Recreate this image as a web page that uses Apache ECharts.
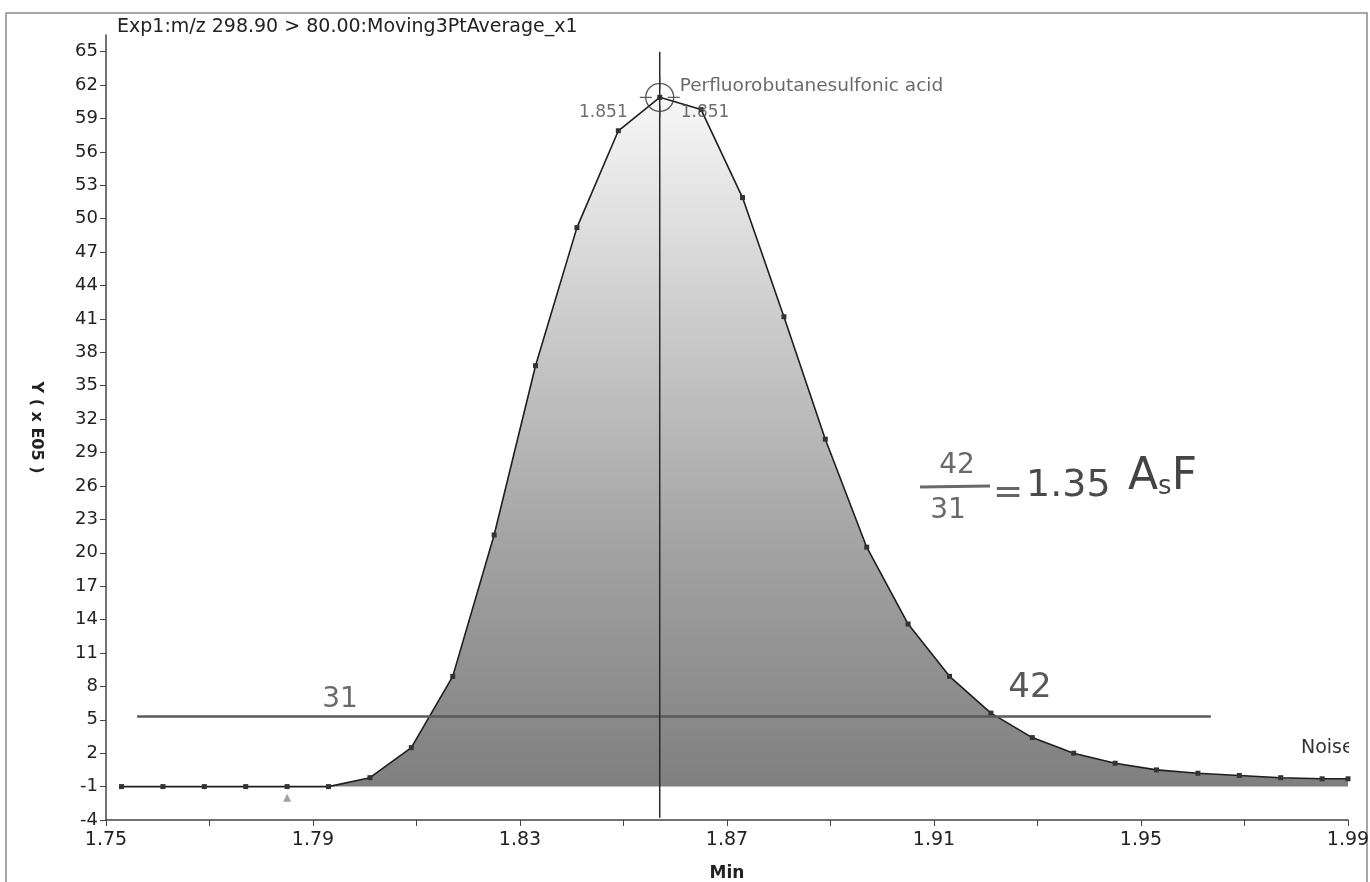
<!DOCTYPE html>
<html><head><meta charset="utf-8">
<script src="https://cdn.jsdelivr.net/npm/echarts@6/dist/echarts.min.js"></script>
<style>html,body{margin:0;padding:0;background:#fff;}#c{width:1370px;height:882px;}</style>
</head><body><div id="c"></div>
<script>
// ---- data (retention time in min, intensity in x E05) ----
const times = [1.753,1.761,1.769,1.777,1.785,1.793,1.801,1.809,1.817,1.825,1.833,1.841,1.849,1.857,1.865,1.873,1.881,1.889,1.897,1.905,1.913,1.921,1.929,1.937,1.945,1.953,1.961,1.969,1.977,1.985,1.99];
const intensity = [-1,-1,-1,-1,-1,-1,-0.2,2.5,8.9,21.6,36.8,49.2,57.9,60.9,59.8,51.9,41.2,30.2,20.5,13.6,8.9,5.6,3.4,2.0,1.1,0.5,0.2,0.0,-0.2,-0.3,-0.3];
const xTickLabels = [1.75,1.79,1.83,1.87,1.91,1.95,1.99];
const xTicks = [1.75,1.77,1.79,1.81,1.83,1.85,1.87,1.89,1.91,1.93,1.95,1.97,1.99];
const yTickLabels = [-4,-1,2,5,8,11,14,17,20,23,26,29,32,35,38,41,44,47,50,53,56,59,62,65];
const peakTime = 1.857, peakValue = 60.9;
const rtLabel = '1.851';
const compoundName = 'Perfluorobutanesulfonic acid';
const levelValue = 5.3, levelStart = 1.756, levelEnd = 1.9635;
const triangleMark = [1.785, -2.0];
const titleText = 'Exp1:m/z 298.90 > 80.00:Moving3PtAverage_x1';

const FONT = 'DejaVu Sans';
const chart = echarts.init(document.getElementById('c'), null, {renderer:'canvas'});
const signal = times.map((t,i)=>[t,intensity[i]]);

const option = {
  backgroundColor:'#fff',
  animation:false,
  title:{text:titleText,left:112,top:13,textStyle:{fontFamily:FONT,fontSize:19,fontWeight:'normal',color:'#222'}},
  grid:{left:106,right:22,top:35,bottom:62,containLabel:false,outerBoundsMode:'none'},
  xAxis:{type:'value',min:1.75,max:1.99,
    name:'Min',nameLocation:'middle',nameGap:45,
    nameTextStyle:{fontFamily:FONT,fontSize:17,fontWeight:'bold',color:'#222'},
    axisLine:{onZero:false,lineStyle:{color:'#444',width:1.5}},
    axisTick:{show:true,length:6,customValues:xTicks,lineStyle:{color:'#444'}},
    axisLabel:{customValues:xTickLabels,formatter:v=>v.toFixed(2),fontFamily:FONT,fontSize:19,color:'#222',margin:11},
    splitLine:{show:false}},
  yAxis:{type:'value',min:-4,max:66.5,
    name:'Y ( x E05 )',nameLocation:'middle',nameGap:62,nameRotate:-90,
    nameTextStyle:{fontFamily:FONT,fontSize:16,fontWeight:'bold',color:'#222'},
    axisLine:{show:true,onZero:false,lineStyle:{color:'#444',width:1.5}},
    axisTick:{show:true,length:6,customValues:yTickLabels,lineStyle:{color:'#444'}},
    axisLabel:{customValues:yTickLabels,fontFamily:FONT,fontSize:18,color:'#222',margin:8},
    splitLine:{show:false}},
  series:[
    {name:'signal',type:'line',data:signal,smooth:false,
     symbol:'rect',symbolSize:5,showAllSymbol:true,
     itemStyle:{color:'#333'},lineStyle:{color:'#1e1e1e',width:1.6},
     areaStyle:{origin:-1,opacity:1,color:new echarts.graphic.LinearGradient(0,0,0,1,[
       {offset:0,color:'#f7f7f7'},{offset:0.3,color:'#cfcfcf'},{offset:0.65,color:'#a3a3a3'},{offset:1,color:'#7f7f7f'}])},
     z:2},
    {name:'level',type:'line',data:[[levelStart,levelValue],[levelEnd,levelValue]],symbol:'none',
     lineStyle:{color:'#5a5a5a',width:2.5},z:3},
    {name:'rt',type:'line',data:[[peakTime,-3.8],[peakTime,65]],symbol:'none',
     lineStyle:{color:'#2a2a2a',width:1.5},z:3},
    {name:'peakMark',type:'scatter',data:[[peakTime,peakValue]],
     symbol:'path://M0,-20L0,-8M0,8L0,20M-20,0L-8,0M8,0L20,0M14,0A14,14 0 1 1 -14,0A14,14 0 1 1 14,0Z',
     symbolSize:40,symbolKeepAspect:true,
     itemStyle:{color:'rgba(0,0,0,0)',borderColor:'#333',borderWidth:1.4},z:4,
     label:{show:false}},
    {name:'peakLabels',type:'scatter',symbolSize:0,z:5,silent:true,
     data:[
       {value:[peakTime,peakValue],label:{show:true,formatter:compoundName,position:[20,-11],align:'left',verticalAlign:'middle',fontFamily:FONT,fontSize:18.5,color:'#454545'}},
       {value:[peakTime,peakValue],label:{show:true,formatter:rtLabel,position:[-32,15],align:'right',verticalAlign:'middle',fontFamily:FONT,fontSize:17,color:'#4a4a4a'}},
       {value:[peakTime,peakValue],label:{show:true,formatter:rtLabel,position:[21,15],align:'left',verticalAlign:'middle',fontFamily:FONT,fontSize:17,color:'#4a4a4a'}}
     ]},
    {name:'tri',type:'scatter',data:[triangleMark],symbol:'triangle',symbolSize:8,itemStyle:{color:'#8a8a8a'},z:3}
  ],
  graphic:[
    {type:'rect',shape:{x:6,y:13,width:1361,height:880},style:{fill:'none',stroke:'#8a8a8a',lineWidth:1.5},z:0,silent:true},
    {type:'text',x:1301,y:748,style:{text:'Noise',font:'19px "DejaVu Sans"',fill:'#333',verticalAlign:'middle'},z:10},
    {type:'rect',shape:{x:1349,y:730,width:16,height:35},style:{fill:'#fff'},z:11},
    {type:'text',x:340,y:700,style:{text:'31',font:'28px "DejaVu Sans"',fill:'#6a6a6a',align:'center',verticalAlign:'middle'},z:10},
    {type:'text',x:1030,y:688,style:{text:'42',font:'34px "DejaVu Sans"',fill:'#585858',align:'center',verticalAlign:'middle'},z:10},
    {type:'text',x:957,y:466,style:{text:'42',font:'28px "DejaVu Sans"',fill:'#6a6a6a',align:'center',verticalAlign:'middle'},z:10},
    {type:'line',shape:{x1:920,y1:487,x2:990,y2:486},style:{stroke:'#6a6a6a',lineWidth:3},z:10},
    {type:'text',x:948,y:511,style:{text:'31',font:'28px "DejaVu Sans"',fill:'#6a6a6a',align:'center',verticalAlign:'middle'},z:10},
    {type:'text',x:993,y:494,style:{text:'=',font:'36px "DejaVu Sans"',fill:'#666',align:'left',verticalAlign:'middle'},z:10},
    {type:'text',x:1026,y:486,style:{text:'1.35',font:'38px "DejaVu Sans"',fill:'#4a4a4a',align:'left',verticalAlign:'middle'},z:10},
    {type:'text',x:1128,y:478,style:{text:'{a|A}{s|s}{a|F}',align:'left',verticalAlign:'middle',
      rich:{a:{font:'44px "DejaVu Sans"',fill:'#444',color:'#444'},s:{font:'26px "DejaVu Sans"',fill:'#444',color:'#444',padding:[18,0,0,0]}}},z:10}
  ]
};
chart.setOption(option);
</script></body></html>
